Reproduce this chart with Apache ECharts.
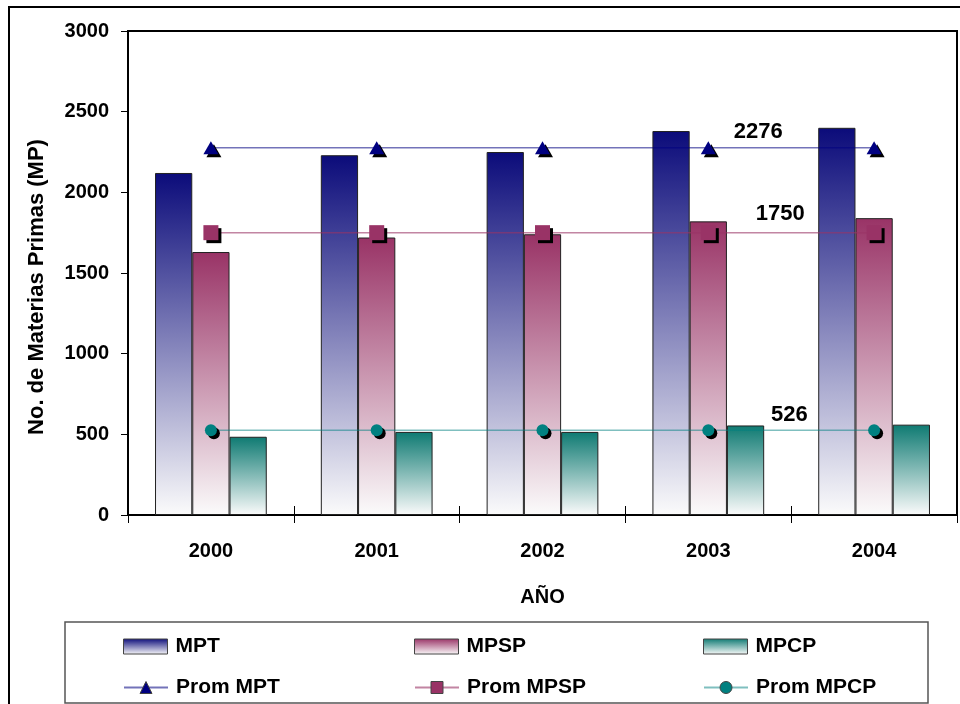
<!DOCTYPE html>
<html>
<head>
<meta charset="utf-8">
<script src="https://cdn.jsdelivr.net/npm/echarts@6/dist/echarts.min.js"></script>
<style>html,body{margin:0;padding:0;background:#fff;}#c{width:960px;height:704px;}</style>
</head>
<body>
<div id="c"></div>
<script>
const years = ['2000', '2001', '2002', '2003', '2004'];
const MPT = [2120, 2230, 2250, 2380, 2400];
const MPSP = [1630, 1720, 1740, 1820, 1840];
const MPCP = [485, 515, 515, 555, 560];
const promMPT = [2276, 2276, 2276, 2276, 2276];
const promMPSP = [1750, 1750, 1750, 1750, 1750];
const promMPCP = [526, 526, 526, 526, 526];
const yTicks = [0, 500, 1000, 1500, 2000, 2500, 3000];

const FONT = '"Liberation Sans", Arial, sans-serif';
const chart = echarts.init(document.getElementById('c'), null, {renderer: 'canvas'});

function grad(top) {
  return new echarts.graphic.LinearGradient(0, 0, 0, 1, [
    {offset: 0, color: top},
    {offset: 1, color: '#fbfbfb'}
  ]);
}
function barSeries(name, data, top) {
  return {
    name: name, type: 'bar', data: data,
    barGap: '0%', barCategoryGap: '32.6%',
    itemStyle: {color: grad(top), borderColor: '#222', borderWidth: 1},
    z: 2
  };
}
function lineSeries(name, data, lineColor, mColor, symbol, size, labelOffset) {
  return {
    name: name, type: 'line', symbol: symbol, symbolSize: size,
    data: data.map((v, i) => i === 3 ? {value: v, label: {
      show: true, position: 'inside', offset: labelOffset,
      formatter: String(v), color: '#000', fontFamily: FONT, fontWeight: 'bold', fontSize: 22
    }} : v),
    lineStyle: {color: lineColor, width: 1.5},
    itemStyle: {color: mColor, shadowColor: '#000', shadowBlur: 0, shadowOffsetX: 3, shadowOffsetY: 3},
    emphasis: {disabled: true},
    z: 5
  };
}

const legendText = {fontFamily: FONT, fontWeight: 'bold', fontSize: 21, color: '#000', padding: [0, 0, 0, 3]};
function legend(name, left, top, icon) {
  const l = {
    data: [name], left: left, top: top, itemWidth: 44, itemHeight: 15,
    textStyle: legendText, selectedMode: false,
    itemStyle: {shadowBlur: 0, shadowOffsetX: 0, shadowOffsetY: 0, shadowColor: 'rgba(0,0,0,0)', borderColor: '#444', borderWidth: 1}
  };
  if (icon) l.icon = icon;
  return l;
}

chart.setOption({
  animation: false,
  backgroundColor: '#fff',
  grid: {left: 128, right: 3, top: 31, bottom: 189, show: true, borderColor: '#000', borderWidth: 2},
  legend: [
    legend('MPT', 118, 631, 'rect'), legend('MPSP', 409, 631, 'rect'), legend('MPCP', 698, 631, 'rect'),
    legend('Prom MPT', 118, 672), legend('Prom MPSP', 409, 672), legend('Prom MPCP', 698, 672)
  ],
  xAxis: [{
    type: 'category', data: years, boundaryGap: true,
    name: 'AÑO', nameLocation: 'middle', nameGap: 72,
    nameTextStyle: {fontFamily: FONT, fontWeight: 'bold', fontSize: 20, color: '#000'},
    axisLine: {lineStyle: {color: '#000', width: 2}},
    axisTick: {show: true, length: 8, lineStyle: {color: '#000', width: 1}},
    axisLabel: {fontFamily: FONT, fontWeight: 'bold', fontSize: 20, color: '#000', margin: 26}
  }, {
    type: 'category', data: years, boundaryGap: true, position: 'bottom',
    axisLine: {show: false}, axisLabel: {show: false},
    axisTick: {show: true, inside: true, length: 9, lineStyle: {color: '#000', width: 1}}
  }],
  yAxis: {
    type: 'value', min: yTicks[0], max: yTicks[yTicks.length - 1], interval: 500,
    name: 'No. de Materias Primas (MP)', nameLocation: 'middle', nameGap: 80,
    nameTextStyle: {fontFamily: FONT, fontWeight: 'bold', fontSize: 22, color: '#000', padding: [0, 28, 0, 0]},
    axisLine: {show: true, lineStyle: {color: '#000', width: 2}},
    axisTick: {show: true, length: 7, lineStyle: {color: '#000', width: 1}},
    splitLine: {show: false},
    axisLabel: {fontFamily: FONT, fontWeight: 'bold', fontSize: 20, color: '#000', margin: 19,
      formatter: v => String(v)}
  },
  series: [
    barSeries('MPT', MPT, '#0b0b7a'),
    barSeries('MPSP', MPSP, '#993366'),
    barSeries('MPCP', MPCP, '#0e7a72'),
    lineSeries('Prom MPT', promMPT, 'rgba(0,0,128,0.55)', '#000080', 'triangle', [15, 13], [50, -16]),
    lineSeries('Prom MPSP', promMPSP, 'rgba(153,51,102,0.6)', '#993366', 'rect', 15, [72, -19]),
    lineSeries('Prom MPCP', promMPCP, 'rgba(0,128,128,0.5)', '#008080', 'circle', 12, [81, -15])
  ],
  graphic: [
    {type: 'rect', shape: {x: 9, y: 7, width: 1000, height: 800}, style: {fill: null, stroke: '#000', lineWidth: 2}, silent: true, z: 100},
    {type: 'rect', shape: {x: 65, y: 622, width: 863, height: 81}, style: {fill: null, stroke: '#555', lineWidth: 1.5}, silent: true, z: 100}
  ]
});
</script>
</body>
</html>
